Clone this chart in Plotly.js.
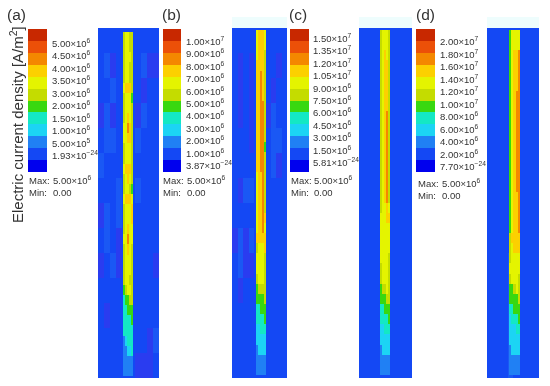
<!DOCTYPE html>
<html><head><meta charset="utf-8">
<script src="https://cdn.plot.ly/plotly-3.0.1.min.js"></script>
<style>html,body{margin:0;padding:0;background:#fff}#c{width:550px;height:386px;filter:blur(.7px)}</style>
</head><body><div id="c"></div>
<script>
const panelNames = ["(a)","(b)","(c)","(d)"];
const yAxisTitle = "Electric current density [A/m<sup>2</sup>]";
const labelsA = ["5.00×10<sup>6</sup>","4.50×10<sup>6</sup>","4.00×10<sup>6</sup>","3.50×10<sup>6</sup>","3.00×10<sup>6</sup>","2.00×10<sup>6</sup>","1.50×10<sup>6</sup>","1.00×10<sup>6</sup>","5.00×10<sup>5</sup>","1.93×10<sup>−24</sup>"];
const labelsB = ["1.00×10<sup>7</sup>","9.00×10<sup>6</sup>","8.00×10<sup>6</sup>","7.00×10<sup>6</sup>","6.00×10<sup>6</sup>","5.00×10<sup>6</sup>","4.00×10<sup>6</sup>","3.00×10<sup>6</sup>","2.00×10<sup>6</sup>","1.00×10<sup>6</sup>","3.87×10<sup>−24</sup>"];
const labelsC = ["1.50×10<sup>7</sup>","1.35×10<sup>7</sup>","1.20×10<sup>7</sup>","1.05×10<sup>7</sup>","9.00×10<sup>6</sup>","7.50×10<sup>6</sup>","6.00×10<sup>6</sup>","4.50×10<sup>6</sup>","3.00×10<sup>6</sup>","1.50×10<sup>6</sup>","5.81×10<sup>−24</sup>"];
const labelsD = ["2.00×10<sup>7</sup>","1.80×10<sup>7</sup>","1.60×10<sup>7</sup>","1.40×10<sup>7</sup>","1.20×10<sup>7</sup>","1.00×10<sup>7</sup>","8.00×10<sup>6</sup>","6.00×10<sup>6</sup>","4.00×10<sup>6</sup>","2.00×10<sup>6</sup>","7.70×10<sup>−24</sup>"];
const maxLabel = "5.00×10<sup>6</sup>";
const minLabel = "0.00";

// contour band colours, low to high; the last two are the faint mottling of the blue field
const bandColors = ["#0000ee","#1448f4","#2080f4","#1cd4f4","#14e8c4","#38d810","#c4dc00","#e4f400","#fcd000","#f48800","#ec5008","#c82800","#2a3cf0","#1a58f4"];
const barLevels = [12,11,10,9,8,7,6,5,4,3,2,1];

// current density level along the conductor: one row per slice, five cells across
const stripA = [
[7,8,8,7,7],[7,8,8,7,7],[7,8,8,8,7],[7,8,8,7,7],[7,8,8,7,7],[8,9,9,9,7],[7,8,8,8,6],[7,8,8,8,7],[7,8,9,8,7],
[8,8,10,9,7],[8,8,9,9,7],[7,8,8,8,7],[7,8,8,8,7],[8,9,9,9,7],[7,8,9,8,7],[7,8,8,7,6],[8,9,9,9,8],[7,8,8,8,9],
[7,8,8,8,9],[7,8,9,8,8],[8,8,10,8,8],[7,8,9,8,7],[7,8,8,8,7],[7,8,8,8,7],[7,8,8,7,7],[6,7,8,8,7],[5,6,6,7,7],
[5,5,6,6,6],[5,5,5,5,6],[5,5,5,5,5],[3,4,5,5,5],[3,3,4,4,5],[3,3,3,3,3],[3,3,3,3,3]];
const stripB = [
[8,9,9,9,8],[8,9,9,9,8],[8,9,9,9,7],[9,9,9,9,7],[9,9,10,9,7],[9,9,10,9,7],[9,9,10,9,7],[9,9,10,10,7],[9,9,10,10,7],
[9,9,10,10,7],[9,9,10,10,7],[9,9,10,10,6],[9,9,10,10,7],[9,9,10,10,7],[8,9,9,10,7],[8,9,9,10,7],[8,9,9,10,7],[8,9,9,10,7],
[8,9,9,10,9],[8,9,9,10,8],[9,9,9,9,9],[7,8,8,8,9],[8,8,8,8,7],[8,8,8,8,7],[7,8,8,8,7],[6,7,7,7,7],[6,6,6,6,7],
[5,5,6,6,6],[5,5,5,5,6],[4,4,5,5,5],[4,4,4,4,4],[3,4,4,4,4],[3,3,3,3,3],[3,3,3,3,3]];
const stripC = [
[7,8,8,8,7],[7,8,8,8,7],[7,8,9,8,7],[7,8,9,9,7],[7,8,9,9,7],[7,8,9,9,7],[7,8,9,9,7],[7,8,9,9,7],[7,8,9,10,7],
[7,8,9,10,7],[7,8,9,10,7],[7,8,9,10,7],[7,8,9,10,7],[7,8,9,10,7],[7,8,9,10,7],[7,8,9,10,7],[7,8,9,10,7],[7,8,8,9,8],
[8,8,8,9,9],[8,8,8,8,8],[8,8,8,8,8],[8,8,8,8,8],[8,8,8,8,7],[7,8,8,8,7],[7,8,8,8,7],[6,7,7,8,7],[6,6,6,7,7],
[5,5,6,6,6],[5,5,5,5,6],[4,4,5,5,5],[4,4,4,4,4],[3,4,4,4,4],[3,3,3,3,3],[3,3,3,3,3]];
const stripD = [
[6,8,8,8,8],[6,8,8,8,8],[6,8,9,9,10],[6,8,9,9,10],[6,8,9,9,10],[6,8,9,9,10],[6,8,9,10,10],[6,8,9,10,10],[6,8,9,10,10],
[6,8,9,10,10],[6,8,9,10,10],[6,8,9,10,10],[6,8,9,10,10],[6,8,9,10,10],[6,8,9,10,10],[6,8,9,10,10],[6,8,9,9,10],[6,8,9,9,10],
[6,8,9,9,10],[6,8,9,9,10],[7,9,9,9,9],[7,8,9,9,9],[7,8,8,8,8],[8,8,8,8,8],[7,8,8,8,7],[6,6,7,8,7],[6,6,6,6,7],
[5,5,6,6,6],[4,5,5,5,6],[4,4,4,5,5],[4,4,4,4,4],[3,4,4,4,4],[3,3,3,3,3],[3,3,3,3,3]];

// the blue field around the conductor: 14 rows, 10 cells across
const fieldA = [
[2,2,2,2,2,2,2,2,2,2],[2,14,13,2,2,2,2,14,13,13],[2,2,14,2,2,2,2,13,2,2],[13,14,13,2,2,2,13,14,2,2],
[2,14,14,2,2,2,14,2,2,2],[14,2,2,2,2,2,2,2,2,2],[2,2,2,14,2,2,14,2,2,2],[13,14,2,14,2,2,2,2,2,2],
[2,14,2,13,2,2,2,2,2,2],[13,2,14,13,2,2,2,2,2,13],[2,2,2,2,2,2,2,2,2,2],[2,13,2,2,2,2,2,2,2,2],
[2,2,2,2,2,2,2,2,13,14],[2,2,2,2,2,2,13,13,13,2]];
const fieldB = [
[2,2,2,2,2,2,2,2,2,2],[2,13,2,13,2,2,2,2,13,2],[2,13,2,13,2,2,2,13,2,2],[2,13,2,13,2,2,13,14,2,2],
[2,2,2,13,2,2,2,14,14,2],[2,2,2,2,2,2,2,14,13,2],[2,13,14,14,2,2,2,2,2,2],[2,2,2,2,2,2,2,2,2,2],
[13,14,13,14,2,2,2,2,2,2],[2,14,13,13,2,2,2,2,2,2],[2,13,2,2,2,2,2,2,2,2],[2,2,2,2,2,2,2,2,2,2],
[2,2,2,2,2,2,2,2,2,2],[2,2,2,2,2,2,2,2,2,2]];
const fieldC = [
[2,2,2,2,2,2,2,2,2,2],[2,2,2,2,2,2,2,2,2,2],[2,2,2,2,2,2,2,2,2,2],[2,2,2,2,2,2,2,2,2,2],
[2,2,2,2,2,2,2,2,2,2],[2,2,2,2,2,2,2,2,2,2],[2,2,2,2,2,2,2,2,2,2],[2,2,2,2,2,2,2,2,2,2],
[2,2,2,2,2,2,2,2,2,2],[2,2,2,2,2,2,2,2,2,2],[2,2,2,2,14,2,2,2,2,2],[2,2,2,2,14,2,2,2,2,2],
[2,2,2,2,14,2,2,2,2,2],[2,2,2,2,2,2,2,2,2,2]];
const fieldD = [
[2,2,2,2,2,2,2,2,2,2],[2,2,2,2,2,2,2,2,2,2],[2,2,2,2,2,2,2,2,2,2],[2,2,2,2,2,2,2,2,2,2],
[2,2,2,2,2,2,2,2,2,2],[2,2,2,2,2,2,2,2,2,2],[2,2,2,2,2,2,2,2,2,2],[2,2,2,2,2,2,2,2,2,2],
[2,2,2,2,2,2,2,2,2,2],[2,2,2,2,14,2,2,2,2,2],[2,2,2,2,14,2,2,2,2,2],[2,2,2,2,14,2,2,2,2,2],
[2,2,2,2,14,2,2,2,2,2],[2,2,2,2,14,2,2,2,2,2]];

const W = 550, H = 386;
const px = v => v / W, py = v => 1 - v / H;
const geom = [
 {map:[98,159], strip:[123,133], sy:[32,376], bar:[28,47], labelX:51, labelY:43, step:12.47, infoX:[28,52], infoY:[180,192], nameX:6},
 {map:[232,287], strip:[256,266], sy:[30,375], bar:[163,181], labelX:185, labelY:41, step:12.4, infoX:[162,186], infoY:[180,192], nameX:161},
 {map:[359,412], strip:[380,390], sy:[30,375], bar:[290,309], labelX:312, labelY:38, step:12.4, infoX:[290,313], infoY:[180,192], nameX:288},
 {map:[487,539], strip:[509,520], sy:[30,375], bar:[416,435], labelX:439, labelY:41, step:12.5, infoX:[417,441], infoY:[183,195], nameX:415}
];
const strips = [stripA, stripB, stripC, stripD];
const fields = [fieldA, fieldB, fieldC, fieldD];
const labels = [labelsA, labelsB, labelsC, labelsD];
const mapY = [28, 378], barY = [29, 172];
const nLevels = bandColors.length;

const cs = [];
bandColors.forEach((c, i) => { cs.push([i / nLevels, c]); cs.push([(i + 1) / nLevels, c]); });
const traces = [], layout = {
  width: W, height: H, margin: {l:0,r:0,t:0,b:0}, paper_bgcolor:"#fff", plot_bgcolor:"#fff",
  showlegend:false, annotations:[], shapes:[]
};
const hidden = r => ({range:r, visible:false, fixedrange:true});
const heat = o => Object.assign({type:"heatmap", colorscale:cs, zmin:.5, zmax:nLevels+.5, showscale:false, hoverinfo:"skip", zsmooth:false}, o);
const edges = (n, span) => Array.from({length:n+1}, (_, i) => span*i/n);
const txt = (x, y, text, size, extra) => layout.annotations.push(Object.assign({
  xref:"paper", yref:"paper", x:px(x), y:py(y), text, showarrow:false, xanchor:"left", yanchor:"middle",
  font:{family:"Liberation Sans, Arial, sans-serif", size:size, color:"#333"}, borderpad:0
}, extra||{}));

geom.forEach((g, p) => {
  const mx = p*2+1, bx = p*2+2;
  const a = [mx, bx].map(n => n===1 ? "" : n);
  const w = g.map[1]-g.map[0], h = mapY[1]-mapY[0], sw = g.strip[1]-g.strip[0];
  const s0 = g.strip[0]-g.map[0];
  const rows = strips[p], rowH = (g.sy[1]-g.sy[0])/rows.length, top = g.sy[0]-mapY[0];
  traces.push(heat({x:edges(10,w), y:edges(14,h), z:fields[p], xaxis:"x"+a[0], yaxis:"y"+a[0]}));
  traces.push(heat({x:edges(5,sw).map(v=>v+s0), y:edges(rows.length,rowH*rows.length).map(v=>v+top), z:rows, xaxis:"x"+a[0], yaxis:"y"+a[0]}));
  traces.push(heat({x:[0,1], y:edges(barLevels.length,barLevels.length), z:barLevels.map(v=>[v]), xaxis:"x"+a[1], yaxis:"y"+a[1]}));
  layout["xaxis"+a[0]] = Object.assign(hidden([0,w]), {domain:[px(g.map[0]),px(g.map[1])]});
  layout["yaxis"+a[0]] = Object.assign(hidden([h,0]), {domain:[py(mapY[1]),py(mapY[0])]});
  layout["xaxis"+a[1]] = Object.assign(hidden([0,1]), {domain:[px(g.bar[0]),px(g.bar[1])]});
  layout["yaxis"+a[1]] = Object.assign(hidden([barLevels.length,0]), {domain:[py(barY[1]),py(barY[0])]});
  labels[p].forEach((t,i) => txt(g.labelX, g.labelY+i*g.step, t, 9.5));
  txt(g.nameX, 14, panelNames[p], 15.5);
  txt(g.infoX[0], g.infoY[0], "Max:", 9.5);
  txt(g.infoX[1], g.infoY[0], maxLabel, 9.5);
  txt(g.infoX[0], g.infoY[1], "Min:", 9.5);
  txt(g.infoX[1], g.infoY[1], minLabel, 9.5);
  if (p>0) layout.shapes.push({type:"rect", xref:"paper", yref:"paper", x0:px(g.map[0]), x1:px(g.map[1]), y0:py(28), y1:py(17), fillcolor:"#eefdfd", line:{width:0}, layer:"below"});
});
txt(16, 125, yAxisTitle, 15, {textangle:-90, xanchor:"center", yanchor:"middle"});
Plotly.newPlot("c", traces, layout, {staticPlot:true, displayModeBar:false});
</script></body></html>
